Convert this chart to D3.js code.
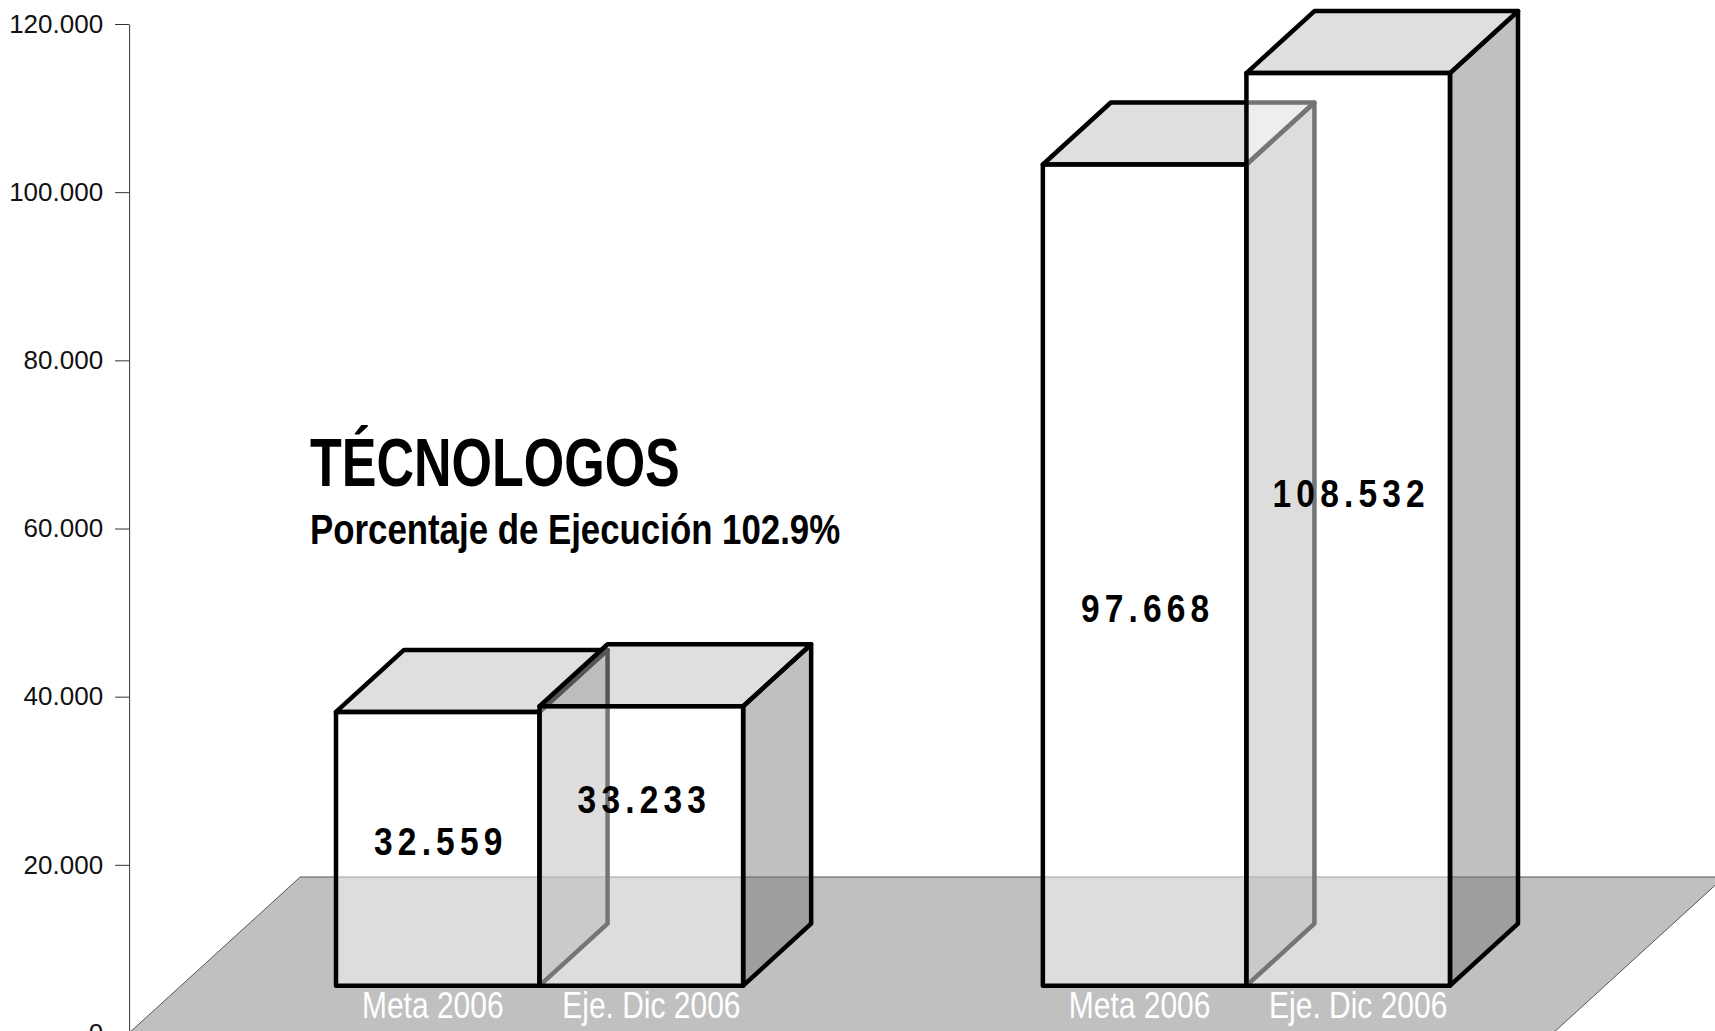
<!DOCTYPE html>
<meta charset="utf-8">
<style>

body {
  margin: 0;
  background: #fff;
}

svg {
  display: block;
}

.axis text {
  font-family: "Liberation Sans", Arial, sans-serif;
  font-size: 26px;
  fill: #111;
}

.axis line,
.axis path {
  stroke: #333;
}

.narrow {
  font-family: "Liberation Sans Narrow", "Arial Narrow", "Liberation Sans", sans-serif;
}

.value {
  font-family: "Liberation Sans", Arial, sans-serif;
  font-weight: bold;
  font-size: 39px;
  letter-spacing: 6px;
  text-anchor: middle;
}

</style>

<body>

<svg width="1715" height="1031"></svg>

<script src="https://d3js.org/d3.v7.min.js"></script>
<script>

// data
var groups = ["Grupo 1", "Grupo 2"];
var series = ["Meta 2006", "Eje. Dic 2006"];
var meta = [32559, 97668];
var ejecucion = [33233, 108532];
var yTicks = [0, 20000, 40000, 60000, 80000, 100000, 120000];
var title = "TÉCNOLOGOS";
var subtitle = "Porcentaje de Ejecución 102.9%";

var svg = d3.select("svg"),
    width = +svg.attr("width"),
    height = +svg.attr("height");

var es = d3.formatLocale({decimal: ",", thousands: ".", grouping: [3], currency: ["$", ""]});
var fmt = es.format(",.0f");

var y = d3.scaleLinear()
    .domain([0, 120000])
    .range([1033, 24]);

var x0 = d3.scaleBand()
    .domain(groups)
    .range([336, 1450])
    .paddingInner(0.424);

var x1 = d3.scaleBand()
    .domain(series)
    .range([0, x0.bandwidth()]);

// fake 3d: one unit of depth moves a point right DX and up DY
var DX = 68, DY = 62;
var zFront = -0.763, zBack = 1.753;   // floor edges, bars stand from z=0 to z=1
var floorL = 181, floorR = 1605;
var squeeze = 0.81;                   // stands in for a condensed face

function proj(x, v, z) {
  return [x + z * DX, y(v) - (z - zFront) * DY];
}

// text drawn narrower than the installed fonts
function condensed(x, yy, k) {
  return "translate(" + x + "," + yy + ") scale(" + k + ",1)";
}

var line = d3.line();

// floor
svg.append("path")
    .attr("d", line([
      proj(floorL, 0, zFront), proj(floorR, 0, zFront),
      proj(floorR, 0, zBack), proj(floorL, 0, zBack)
    ]) + "Z")
    .attr("fill", "#c0c0c0")
    .attr("stroke", "#555")
    .attr("stroke-width", 1);

// axis
var axisX = proj(floorL, 0, zFront)[0];
svg.append("g")
    .attr("class", "axis")
    .attr("transform", "translate(" + axisX + ",0)")
    .call(d3.axisLeft(y)
      .tickValues(yTicks)
      .tickFormat(fmt)
      .tickSize(14)
      .tickPadding(12)
      .tickSizeOuter(0));

// title
svg.append("text")
    .attr("class", "narrow")
    .attr("transform", condensed(310, 486, 0.765))
    .attr("font-size", 68)
    .attr("font-weight", "bold")
    .text(title);

svg.append("text")
    .attr("class", "narrow")
    .attr("transform", condensed(310, 544, squeeze))
    .attr("font-size", 43)
    .attr("font-weight", "bold")
    .text(subtitle);

// bars
var bars = [];
groups.forEach(function(g, i) {
  bars.push({g: g, s: series[0], v: meta[i]});
  bars.push({g: g, s: series[1], v: ejecucion[i]});
});

var labelAt = [0.53, 0.67, 0.46, 0.54];  // where the number sits on the front face
var catNudge = {"Meta 2006": -5, "Eje. Dic 2006": 10};

var bar = svg.append("g")
  .selectAll("g")
  .data(bars)
  .enter().append("g")
    .attr("fill-opacity", 0.46)
    .attr("stroke", "#000")
    .attr("stroke-width", 4.5)
    .attr("stroke-linejoin", "round");

bar.each(function(d) {
  var g = d3.select(this),
      xa = x0(d.g) + x1(d.s),
      xb = xa + x1.bandwidth();

  g.append("path")
      .attr("fill", "#767676")
      .attr("d", line([proj(xb, 0, 0), proj(xb, 0, 1), proj(xb, d.v, 1), proj(xb, d.v, 0)]) + "Z");

  g.append("path")
      .attr("fill", "#b9b9b9")
      .attr("d", line([proj(xa, d.v, 0), proj(xb, d.v, 0), proj(xb, d.v, 1), proj(xa, d.v, 1)]) + "Z");

  g.append("path")
      .attr("fill", "#fff")
      .attr("d", line([proj(xa, 0, 0), proj(xb, 0, 0), proj(xb, d.v, 0), proj(xa, d.v, 0)]) + "Z");
});

// numbers and category names
bars.forEach(function(d, i) {
  var cx = x0(d.g) + x1(d.s) + x1.bandwidth() / 2;

  svg.append("text")
      .attr("class", "value")
      .attr("transform", condensed(cx + 3, proj(cx, d.v * labelAt[i], 0)[1], 0.86))
      .attr("dy", "0.36em")
      .text(fmt(d.v));

  svg.append("text")
      .attr("class", "narrow")
      .attr("transform", condensed(cx + catNudge[d.s], y(0) - 15, squeeze))
      .attr("text-anchor", "middle")
      .attr("font-size", 37)
      .attr("fill", "#fff")
      .text(d.s);
});

</script>

</body>
